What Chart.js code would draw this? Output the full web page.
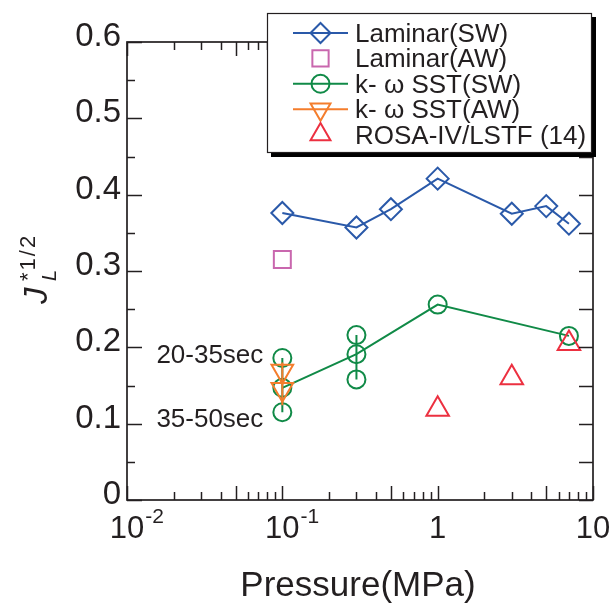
<!DOCTYPE html>
<html>
<head>
<meta charset="utf-8">
<script src="https://cdn.jsdelivr.net/npm/chart.js@4.4.0/dist/chart.umd.min.js"></script>
<style>
  html, body { margin: 0; padding: 0; background: #fff; }
  #wrap { width: 614px; height: 604px; }
</style>
</head>
<body>
<div id="wrap"><canvas id="chart" width="614" height="604"></canvas></div>
<script>
// --- data ---
const LAM_SW_X = [0.1, 0.3, 0.5, 1, 3, 5, 7];
const LAM_SW_Y = [0.376, 0.357, 0.381, 0.421, 0.375, 0.385, 0.362];
const LAM_AW_X = [0.1];
const LAM_AW_Y = [0.315];
const SST_SW_X = [0.1, 0.3, 1, 7];
const SST_SW_Y = [0.147, 0.191, 0.256, 0.215];
const SST_SW_EXTRA_X = [0.1, 0.1, 0.3, 0.3];
const SST_SW_EXTRA_Y = [0.186, 0.115, 0.216, 0.158];
const SST_AW_X = [0.1, 0.1];
const SST_AW_Y = [0.169, 0.145];
const SST_AW_SPAN = [0.180, 0.124];
const ROSA_X = [1, 3, 7];
const ROSA_Y = [0.119, 0.160, 0.205];

const X_TICK_VALUES = [0.01, 0.1, 1, 10];
const X_TICK_BASE = ["10", "10", "1", "10"];
const X_TICK_SUP = ["-2", "-1", "", ""];

const LEGEND_LABELS = ["Laminar(SW)", "Laminar(AW)", "k- \u03c9 SST(SW)", "k- \u03c9 SST(AW)", "ROSA-IV/LSTF (14)"];

// --- palette ---
const INK = "#231f20";
const BLUE = "#2a59a9";
const PINK = "#c967ae";
const GREEN = "#108a47";
const ORANGE = "#f47d2c";
const RED = "#ec3040";
const FONT = "'Liberation Sans', Arial, Helvetica, sans-serif";

const pts = (xs, ys) => xs.map((x, i) => ({ x, y: ys[i] }));

function series(label, data, color, style, extra) {
    return Object.assign({
        label,
        data,
        showLine: false,
        borderColor: color,
        borderWidth: 2,
        pointStyle: style,
        pointBorderColor: color,
        pointBackgroundColor: "rgba(0,0,0,0)",
        pointBorderWidth: 2,
        pointRadius: 9,
        pointHoverRadius: 9,
    }, extra || {});
}

function span(color, x, y0, y1) {
    return series("", [{ x, y: y0 }, { x, y: y1 }], color, "circle", { showLine: true, pointRadius: 0, pointHoverRadius: 0 });
}

const datasets = [
    series("ROSA", pts(ROSA_X, ROSA_Y), RED, "triangle", { pointRadius: 13 }),
    series("SST AW", pts(SST_AW_X, SST_AW_Y), ORANGE, "triangle", { pointRadius: 12.5, pointRotation: 180 }),
    span(ORANGE, SST_AW_X[0], SST_AW_SPAN[0], SST_AW_SPAN[1]),
    series("SST SW", pts(SST_SW_X, SST_SW_Y), GREEN, "circle", { showLine: true }),
    series("SST SW extra", pts(SST_SW_EXTRA_X, SST_SW_EXTRA_Y), GREEN, "circle"),
    span(GREEN, SST_SW_EXTRA_X[0], SST_SW_EXTRA_Y[0], SST_SW_EXTRA_Y[1]),
    span(GREEN, SST_SW_EXTRA_X[2], SST_SW_EXTRA_Y[2], SST_SW_EXTRA_Y[3]),
    series("Laminar AW", pts(LAM_AW_X, LAM_AW_Y), PINK, "rect", { pointRadius: 12 }),
    series("Laminar SW", pts(LAM_SW_X, LAM_SW_Y), BLUE, "rectRot", { showLine: true, pointRadius: 11 }),
];

// legend rows -> dataset index, whether a line runs through the marker
const LEGEND_ROWS = [
    { ds: 8, line: true, r: 10 },
    { ds: 7, line: false, r: 11.5 },
    { ds: 3, line: true, r: 9 },
    { ds: 1, line: true, r: 11.5 },
    { ds: 0, line: false, r: 11.5 },
];

function seg(ctx, x0, y0, x1, y1) {
    ctx.beginPath(); ctx.moveTo(x0, y0); ctx.lineTo(x1, y1); ctx.stroke();
}

const decor = {
    id: "decor",
    afterDatasetsDraw(chart) {
        const { ctx, chartArea: a, scales: { x, y } } = chart;
        ctx.save();
        ctx.strokeStyle = INK;
        ctx.lineWidth = 1.7;
        ctx.strokeRect(a.left, a.top, a.right - a.left, a.bottom - a.top);

        // inward log ticks, longer at 1 and 5
        ctx.lineWidth = 1.5;
        for (let e = -2; e <= 1; e++) {
            for (let m = 1; m <= 9; m++) {
                const v = m * Math.pow(10, e);
                if (v > 10.0001) break;
                const px = Math.round(x.getPixelForValue(v)) + 0.5;
                const len = (m === 1 || m === 5) ? 14 : 8;
                seg(ctx, px, a.bottom, px, a.bottom - len);
                seg(ctx, px, a.top, px, a.top + len);
            }
        }
        // y ticks: majors every 0.1, minors halfway
        for (let k = 0; k <= 12; k++) {
            const py = Math.round(y.getPixelForValue(k * 0.05)) + 0.5;
            seg(ctx, a.left, py, a.left + (k % 2 ? 8 : 15), py);
            seg(ctx, a.right, py, a.right - 14, py);
        }

        // x tick labels with superscripts
        ctx.fillStyle = INK;
        ctx.textBaseline = "alphabetic";
        X_TICK_VALUES.forEach((v, i) => {
            const px = x.getPixelForValue(v);
            ctx.font = "31px " + FONT;
            ctx.textAlign = "center";
            ctx.fillText(X_TICK_BASE[i], px, a.bottom + 38);
            if (X_TICK_SUP[i]) {
                const w = ctx.measureText(X_TICK_BASE[i]).width;
                ctx.font = "21px " + FONT;
                ctx.textAlign = "left";
                ctx.fillText(X_TICK_SUP[i], px + w / 2 + 1, a.bottom + 23);
            }
        });

        // x axis title
        ctx.font = "35px " + FONT;
        ctx.textAlign = "center";
        ctx.fillText("Pressure(MPa)", (a.left + a.right) / 2 - 2, 596);

        // y axis title  J_L^{*1/2}
        ctx.save();
        ctx.translate(47, 304);
        ctx.rotate(-Math.PI / 2);
        ctx.textAlign = "left";
        ctx.font = "italic 33px " + FONT;
        ctx.fillText("J", 0, 0);
        ctx.font = "italic 20px " + FONT;
        ctx.fillText("L", 23, 9);
        ctx.font = "22px " + FONT;
        ctx.letterSpacing = "2px";
        ctx.fillText("*1/2", 23, -12);
        ctx.restore();

        // time-window notes next to the 0.1 MPa points
        const nx = x.getPixelForValue(0.1) - 19;
        ctx.font = "26px " + FONT;
        ctx.textAlign = "right";
        ctx.fillText("20-35sec", nx, 363);
        ctx.fillText("35-50sec", nx, 427);
        ctx.restore();
    },
    afterDraw(chart) {
        const { ctx } = chart;
        const L = 267, T = 13, W = 325, H = 140;
        ctx.save();
        ctx.fillStyle = "#000";
        ctx.fillRect(L + 4, T + 4, W, H);
        ctx.fillStyle = "#fff";
        ctx.fillRect(L, T, W, H);
        ctx.strokeStyle = INK;
        ctx.lineWidth = 1.2;
        ctx.strokeRect(L + 0.5, T + 0.5, W - 1, H - 1);

        ctx.font = "26px " + FONT;
        ctx.textAlign = "left";
        ctx.textBaseline = "alphabetic";
        LEGEND_ROWS.forEach((row, i) => {
            const ds = chart.data.datasets[row.ds];
            const base = 42 + i * 25.4;
            const cy = base - 9;
            const cx = 320.5;
            ctx.strokeStyle = ds.borderColor;
            ctx.lineWidth = 2;
            if (row.line) seg(ctx, 293, cy, 348, cy);
            ctx.fillStyle = "rgba(0,0,0,0)";
            Chart.helpers.drawPoint(ctx, {
                pointStyle: ds.pointStyle,
                rotation: ds.pointRotation || 0,
                radius: row.r,
                borderWidth: 2,
            }, cx, cy);
            ctx.fillStyle = INK;
            ctx.fillText(LEGEND_LABELS[i], 355, base);
        });
        ctx.restore();
    },
};

new Chart(document.getElementById("chart"), {
    type: "scatter",
    data: { datasets },
    options: {
        responsive: false,
        animation: false,
        devicePixelRatio: 1,
        events: [],
        layout: { padding: { top: 42, right: 21, bottom: 104, left: 0 } },
        plugins: { legend: { display: false }, tooltip: { enabled: false } },
        scales: {
            x: {
                type: "logarithmic",
                min: 0.01,
                max: 10,
                grid: { display: false, drawTicks: false },
                border: { display: false },
                ticks: { display: false },
                afterFit: (s) => { s.height = 0; },
            },
            y: {
                min: 0,
                max: 0.6,
                grid: { display: false, drawTicks: false },
                border: { display: false },
                ticks: {
                    stepSize: 0.1,
                    color: INK,
                    padding: 6,
                    labelOffset: -5,
                    font: { family: FONT, size: 33 },
                    callback: (v) => (v === 0 ? "0" : Number(v).toFixed(1)),
                },
                afterFit: (s) => { s.width = 127; },
            },
        },
    },
    plugins: [decor],
});
</script>
</body>
</html>
